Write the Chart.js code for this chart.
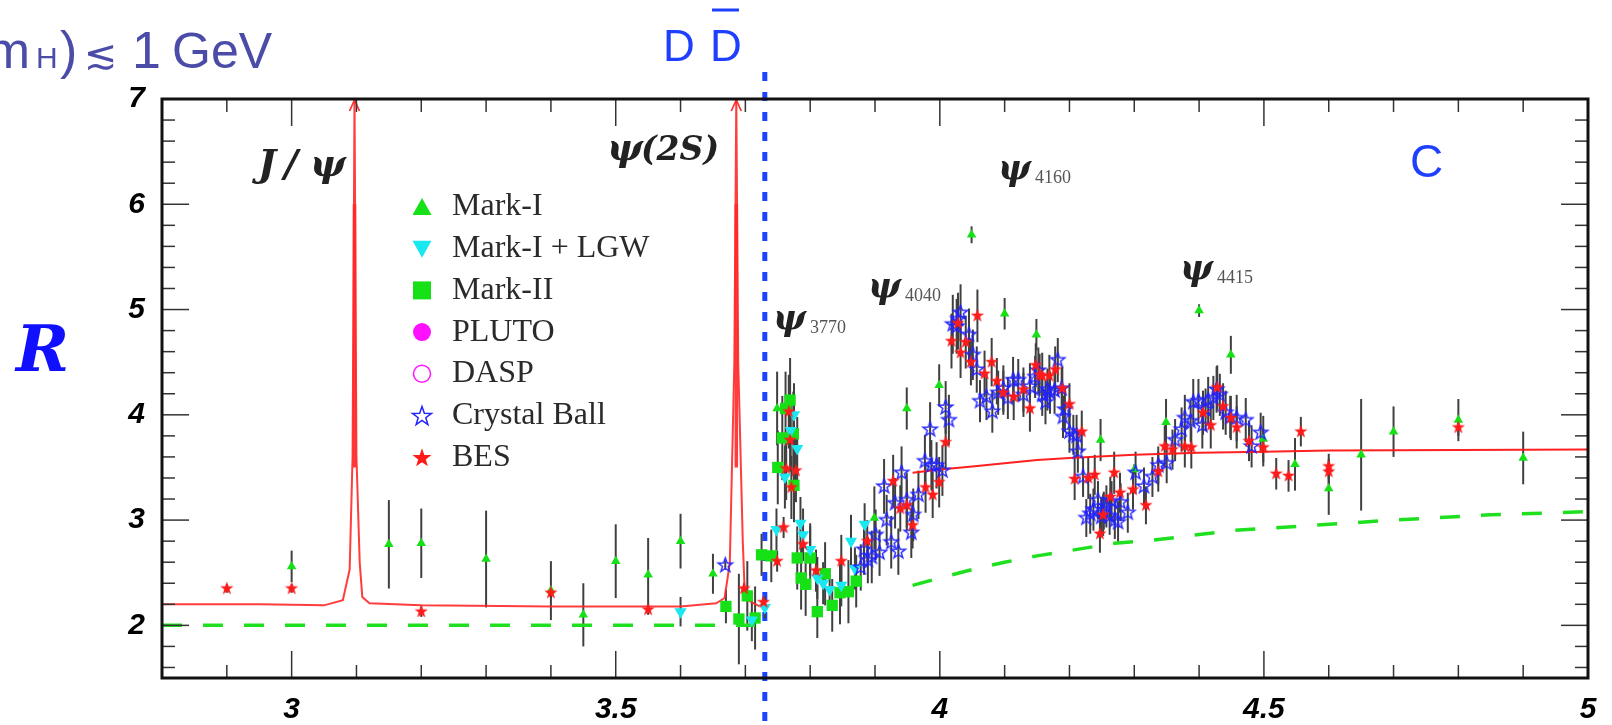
<!DOCTYPE html>
<html>
<head>
<meta charset="utf-8">
<script src="https://cdn.jsdelivr.net/npm/chart.js@4.4.1/dist/chart.umd.min.js"></script>
<style>
  html, body { margin: 0; padding: 0; background: #fff; }
  #wrap { width: 1612px; height: 725px; position: relative; }
</style>
</head>
<body>
<div id="wrap"><canvas id="Chart"></canvas></div>
<script>
// ---- data (E = energy in GeV, R = ratio, dR = error) ----
const markI_E = [3.00, 3.15, 3.20, 3.30, 3.40, 3.45, 3.50, 3.55, 3.60, 3.65, 3.749, 3.899, 3.949, 3.999, 4.049, 4.10, 4.149, 4.248, 4.30, 4.349, 4.40, 4.449, 4.499, 4.548, 4.60, 4.65, 4.70, 4.80, 4.90];
const markI_R = [2.56, 2.77, 2.78, 2.63, 2.33, 2.10, 2.61, 2.48, 2.80, 2.49, 4.06, 3.02, 4.06, 4.28, 5.71, 4.96, 4.76, 3.76, 3.48, 3.93, 4.99, 4.57, 3.77, 3.53, 3.30, 3.62, 3.84, 3.95, 3.59];
const markI_dR = [0.15, 0.42, 0.33, 0.46, 0.28, 0.30, 0.35, 0.35, 0.26, 0.19, 0.35, 0.30, 0.20, 0.20, 0.08, 0.15, 0.15, 0.20, 0.05, 0.22, 0.06, 0.18, 0.22, 0.25, 0.25, 0.53, 0.24, 0.20, 0.25];

const lgw_E = [3.60, 3.71, 3.73, 3.748, 3.761, 3.770, 3.775, 3.780, 3.785, 3.789, 3.800, 3.811, 3.820, 3.830, 3.848, 3.863, 3.869, 3.884];
const lgw_R = [2.13, 2.05, 2.17, 2.91, 3.41, 3.85, 4.00, 3.68, 2.97, 2.86, 2.72, 2.45, 2.40, 2.34, 2.38, 2.80, 2.54, 2.96];
const lgw_dR = [0.14, 0.20, 0.10, 0.20, 0.30, 0.30, 0.30, 0.30, 0.25, 0.25, 0.25, 0.20, 0.20, 0.20, 0.20, 0.25, 0.20, 0.20];

const markII_E = [3.670, 3.690, 3.703, 3.715, 3.725, 3.740, 3.750, 3.757, 3.762, 3.769, 3.774, 3.775, 3.780, 3.786, 3.793, 3.800, 3.811, 3.823, 3.834, 3.846, 3.859, 3.871];
const markII_R = [2.18, 2.06, 2.28, 2.07, 2.67, 2.66, 3.50, 3.78, 4.06, 4.14, 3.82, 3.33, 2.64, 2.45, 2.39, 2.64, 2.13, 2.49, 2.19, 2.31, 2.32, 2.42];
const markII_dR = [0.16, 0.43, 0.33, 0.30, 0.20, 0.25, 0.35, 0.40, 0.35, 0.40, 0.40, 0.35, 0.30, 0.30, 0.30, 0.30, 0.25, 0.30, 0.25, 0.30, 0.30, 0.25];

const pluto_E = [];
const pluto_R = [];
const dasp_E = [];
const dasp_R = [];

const cb_E = [3.669, 3.878, 3.883, 3.889, 3.895, 3.901, 3.907, 3.914, 3.918, 3.925, 3.931, 3.936, 3.941, 3.949, 3.956, 3.959, 3.967, 3.977, 3.985, 3.987, 3.995, 4.004, 4.009, 4.014,
  4.020, 4.026, 4.028, 4.032, 4.045, 4.051, 4.057, 4.062, 4.072, 4.081, 4.090, 4.098, 4.105, 4.113, 4.121, 4.129, 4.139, 4.147, 4.152, 4.158, 4.163, 4.166, 4.170, 4.177, 4.182, 4.188,
  4.190, 4.193, 4.200, 4.206, 4.211, 4.213, 4.221, 4.226, 4.232, 4.237, 4.244, 4.249, 4.253, 4.257, 4.262, 4.265, 4.270, 4.275, 4.279, 4.290, 4.302, 4.315, 4.328, 4.337, 4.350,
  4.363, 4.373, 4.378, 4.387, 4.391, 4.399, 4.405, 4.410, 4.414, 4.422, 4.427, 4.432, 4.441, 4.448, 4.458, 4.472, 4.481, 4.495];
const cb_R = [2.57, 2.55, 2.72, 2.62, 2.65, 2.86, 2.69, 3.32, 3.00, 2.79, 3.16, 2.70, 3.45, 3.19, 2.88, 3.05, 3.24, 3.56, 3.86, 3.52, 3.52, 3.47, 4.07, 3.95,
  4.86, 4.84, 4.91, 4.97, 4.76, 4.57, 4.43, 4.13, 4.17, 4.03, 4.21, 4.25, 4.16, 4.33, 4.33, 4.19, 4.27, 4.36, 4.42, 4.19, 4.12, 4.24, 4.21, 4.23, 4.52, 4.25,
  3.98, 4.05, 3.84, 3.81, 3.80, 3.65, 3.41, 3.02, 3.06, 3.10, 3.19, 3.03, 3.09, 3.13, 3.04, 3.18, 3.00, 2.98, 3.17, 3.07, 3.45, 3.32, 3.41, 3.52, 3.54,
  3.76, 3.86, 3.97, 3.94, 4.12, 4.13, 3.90, 4.05, 4.14, 4.16, 4.24, 4.19, 4.02, 3.98, 3.97, 3.95, 3.70, 3.83];
const cb_dR = [0.04, 0.22, 0.24, 0.22, 0.25, 0.24, 0.22, 0.26, 0.24, 0.25, 0.24, 0.22, 0.25, 0.26, 0.24, 0.25, 0.23, 0.25, 0.26, 0.24, 0.22, 0.24, 0.25, 0.24,
  0.28, 0.26, 0.25, 0.27, 0.25, 0.24, 0.22, 0.20, 0.22, 0.20, 0.21, 0.22, 0.20, 0.22, 0.20, 0.21, 0.22, 0.20, 0.22, 0.20, 0.21, 0.20, 0.20, 0.22, 0.21, 0.20,
  0.20, 0.21, 0.20, 0.19, 0.20, 0.20, 0.19, 0.18, 0.19, 0.20, 0.18, 0.19, 0.18, 0.20, 0.18, 0.19, 0.18, 0.20, 0.18, 0.19, 0.20, 0.18, 0.19, 0.18, 0.19,
  0.20, 0.21, 0.22, 0.20, 0.22, 0.21, 0.22, 0.20, 0.22, 0.21, 0.22, 0.20, 0.21, 0.20, 0.22, 0.21, 0.20, 0.19];

const bes_E = [2.90, 3.00, 3.20, 3.40, 3.55, 3.698, 3.728, 3.749, 3.759, 3.763, 3.767, 3.769, 3.771, 3.778, 3.789, 3.809, 3.848, 3.888, 3.928, 3.939, 3.949, 3.958, 3.978, 3.989, 3.999,
  4.009, 4.018, 4.028, 4.032, 4.040, 4.048, 4.058, 4.069, 4.080, 4.088, 4.098, 4.114, 4.129, 4.139, 4.148, 4.154, 4.158, 4.169, 4.178, 4.189, 4.200, 4.208, 4.219, 4.229,
  4.239, 4.247, 4.252, 4.263, 4.269, 4.278, 4.298, 4.318, 4.337, 4.347, 4.359, 4.378, 4.388, 4.406, 4.418, 4.428, 4.437, 4.449, 4.458, 4.477, 4.499, 4.519, 4.538,
  4.557, 4.600, 4.600, 4.800];
const bes_R = [2.35, 2.35, 2.13, 2.31, 2.15, 2.35, 2.22, 2.61, 2.93, 3.49, 4.03, 3.76, 3.31, 3.47, 2.77, 2.52, 2.61, 2.80, 3.37, 3.11, 3.14, 2.95, 3.31, 3.24, 3.36,
  3.74, 4.70, 4.87, 4.59, 4.69, 4.50, 4.94, 4.39, 4.50, 4.32, 4.21, 4.17, 4.24, 4.06, 4.47, 4.38, 4.37, 4.37, 4.43, 4.25, 4.10, 3.39, 3.84, 3.40,
  3.43, 2.87, 3.05, 3.22, 3.45, 3.26, 3.29, 3.14, 3.46, 3.70, 3.67, 3.70, 3.69, 4.02, 3.90, 4.26, 4.08, 3.97, 3.88, 3.75, 3.69, 3.44, 3.42,
  3.84, 3.51, 3.46, 3.88];
const bes_dR = [0.04, 0.04, 0.05, 0.05, 0.05, 0.05, 0.05, 0.10, 0.10, 0.30, 0.35, 0.30, 0.30, 0.30, 0.10, 0.20, 0.25, 0.20, 0.25, 0.22, 0.24, 0.22, 0.24, 0.22, 0.24,
  0.25, 0.26, 0.25, 0.24, 0.25, 0.22, 0.25, 0.22, 0.23, 0.22, 0.21, 0.22, 0.21, 0.22, 0.21, 0.20, 0.22, 0.20, 0.22, 0.21, 0.20, 0.20, 0.20, 0.20,
  0.19, 0.18, 0.20, 0.19, 0.20, 0.19, 0.19, 0.18, 0.19, 0.20, 0.19, 0.20, 0.20, 0.21, 0.22, 0.21, 0.22, 0.21, 0.20, 0.19, 0.18, 0.15, 0.15,
  0.14, 0.12, 0.12, 0.08];

// theory curve (red) and pQCD (green dashed)
const fitLowE = [2.80, 2.95, 3.05, 3.079, 3.0895, 3.094, 3.097, 3.100, 3.105, 3.109, 3.12, 3.20, 3.40, 3.60, 3.655, 3.668, 3.676, 3.683, 3.686, 3.689, 3.696, 3.699, 3.707, 3.722];
const fitLowR = [2.20, 2.20, 2.19, 2.24, 2.53, 3.60, 7.00, 3.60, 2.60, 2.27, 2.21, 2.19, 2.18, 2.18, 2.21, 2.26, 2.59, 4.50, 7.00, 4.50, 2.80, 2.31, 2.23, 2.18];
const fitHighE = [3.958, 4.00, 4.05, 4.10, 4.15, 4.20, 4.30, 4.40, 4.50, 4.60, 4.80, 5.00];
const fitHighR = [3.45, 3.48, 3.51, 3.54, 3.57, 3.59, 3.62, 3.64, 3.65, 3.66, 3.665, 3.67];
const pqcdLowE = [2.80, 3.715];
const pqcdLowR = [2.00, 2.00];
const pqcdHighE = [3.958, 4.00, 4.05, 4.10, 4.15, 4.20, 4.27, 4.33, 4.45, 4.55, 4.70, 4.85, 5.00];
const pqcdHighR = [2.38, 2.45, 2.53, 2.60, 2.66, 2.71, 2.78, 2.81, 2.90, 2.94, 3.00, 3.05, 3.08];

const xTickLabels = ['3', '3.5', '4', '4.5', '5'];
const yTickLabels = ['2', '3', '4', '5', '6', '7'];
const legendNames = ['Mark-I', 'Mark-I + LGW', 'Mark-II', 'PLUTO', 'DASP', 'Crystal Ball', 'BES'];
const peakE = [3.097, 3.686];
const thresholdE = 3.73;

// ---- helpers ----
const pts = (E, R) => E.map((e, i) => ({ x: e, y: R[i] }));

function makeStar(r, fill, stroke) {
  const s = Math.ceil(r * 2 + 4);
  const c = document.createElement('canvas');
  c.width = s; c.height = s;
  const g = c.getContext('2d');
  starPath(g, s / 2, s / 2, r);
  if (fill) { g.fillStyle = fill; g.fill(); }
  if (stroke) { g.strokeStyle = stroke; g.lineWidth = 1.4; g.stroke(); }
  return c;
}
function starPath(g, cx, cy, r) {
  g.beginPath();
  for (let i = 0; i < 10; i++) {
    const rr = i % 2 ? r * 0.4 : r;
    const a = -Math.PI / 2 + i * Math.PI / 5;
    g.lineTo(cx + rr * Math.cos(a), cy + rr * Math.sin(a));
  }
  g.closePath();
}

const GREEN = '#16e016', CYAN = '#19e8f0', BLUE = '#2222ff', RED = '#ff1a1a', MAG = '#ff10ff';
const blueStar = makeStar(7.5, null, BLUE);
const redStar = makeStar(7, RED, null);

const framePlugin = {
  id: 'frame',
  beforeDatasetsDraw(chart) {
    const ctx = chart.ctx, xs = chart.scales.x, ys = chart.scales.y, a = chart.chartArea;
    ctx.save();
    // D Dbar threshold line
    ctx.strokeStyle = '#1a44ff';
    ctx.lineWidth = 5;
    ctx.setLineDash([9, 11]);
    const tx = xs.getPixelForValue(thresholdE);
    ctx.beginPath(); ctx.moveTo(tx, 72); ctx.lineTo(tx, 725); ctx.stroke();
    ctx.setLineDash([]);
    // error bars
    ctx.beginPath(); ctx.rect(a.left, a.top, a.right - a.left, a.bottom - a.top); ctx.clip();
    ctx.strokeStyle = '#404040'; ctx.lineWidth = 2;
    chart.data.datasets.forEach(ds => {
      if (!ds.errs) return;
      ds.data.forEach((p, i) => {
        const px = xs.getPixelForValue(p.x);
        ctx.beginPath();
        ctx.moveTo(px, ys.getPixelForValue(p.y - ds.errs[i]));
        ctx.lineTo(px, ys.getPixelForValue(p.y + ds.errs[i]));
        ctx.stroke();
      });
    });
    // thicker parts of the resonance peaks
    ctx.strokeStyle = 'rgba(255,40,40,0.9)'; ctx.lineWidth = 3.5;
    peakE.forEach(e => {
      const px = xs.getPixelForValue(e);
      ctx.beginPath(); ctx.moveTo(px, ys.getPixelForValue(3.5)); ctx.lineTo(px, ys.getPixelForValue(6)); ctx.stroke();
    });
    ctx.restore();
  },
  afterDraw(chart) {
    const ctx = chart.ctx, xs = chart.scales.x, ys = chart.scales.y, a = chart.chartArea;
    const line = (x1, y1, x2, y2) => { ctx.beginPath(); ctx.moveTo(x1, y1); ctx.lineTo(x2, y2); ctx.stroke(); };
    const text = (s, x, y, font, color, align) => {
      ctx.font = font; ctx.fillStyle = color; ctx.textAlign = align || 'left'; ctx.fillText(s, x, y);
    };
    ctx.save();

    // arrows at top of the peaks
    ctx.strokeStyle = 'rgba(255,40,40,0.95)'; ctx.lineWidth = 1.8;
    peakE.forEach(e => {
      const px = xs.getPixelForValue(e), py = ys.getPixelForValue(7);
      line(px - 5, py + 12, px, py + 1); line(px + 5, py + 12, px, py + 1);
    });

    // ticks inside the frame
    ctx.strokeStyle = '#333'; ctx.lineWidth = 1.5;
    for (let i = 29; i < 50; i++) {
      const px = xs.getPixelForValue(i / 10), len = i % 5 === 0 ? 27 : 13;
      line(px, a.bottom, px, a.bottom - len);
      line(px, a.top, px, a.top + len);
    }
    for (let i = 8; i < 35; i++) {
      const py = ys.getPixelForValue(i / 5), len = i % 5 === 0 ? 27 : 13;
      line(a.left, py, a.left + len, py);
      line(a.right, py, a.right - len, py);
    }
    ctx.strokeStyle = '#111'; ctx.lineWidth = 3;
    ctx.strokeRect(a.left, a.top, a.right - a.left, a.bottom - a.top);

    // tick labels
    ctx.textBaseline = 'middle';
    const tickFont = 'italic bold 30px "Liberation Sans", Arial, sans-serif';
    xTickLabels.forEach(l => text(l, xs.getPixelForValue(parseFloat(l)), 710, tickFont, '#000', 'center'));
    yTickLabels.forEach(l => text(l, 145, ys.getPixelForValue(parseFloat(l)), tickFont, '#000', 'right'));

    // axis title R
    ctx.textBaseline = 'alphabetic';
    text('R', 16, 371, 'italic bold 64px "DejaVu Serif", serif', '#1010ff');

    // top texts
    const hand = '"Liberation Sans", "DejaVu Sans", sans-serif';
    const hc = '#4b4ba8';
    text('m', 30, 68, '52px ' + hand, hc, 'right');
    text('H', 36, 68, '30px ' + hand, hc);
    text(')', 60, 68, '52px ' + hand, hc);
    text('\u2272', 84, 68, '40px "DejaVu Sans", sans-serif', hc);
    text('1', 132, 68, '52px ' + hand, hc);
    text('GeV', 172, 68, '50px ' + hand, hc);

    text('D', 663, 61, '44px "Liberation Sans", sans-serif', '#1f3fff');
    text('D', 710, 61, '44px "Liberation Sans", sans-serif', '#1f3fff');
    ctx.strokeStyle = '#1f3fff'; ctx.lineWidth = 3; line(712, 10, 739, 10);

    text('C', 1410, 177, '46px "Liberation Sans", sans-serif', '#1f3fff');

    // resonance labels
    const big = 'italic bold 38px "DejaVu Serif", serif';
    const sub = '18px "Liberation Serif", serif';
    text('J', 258, 176, big, '#222');
    text('/', 284, 176, big, '#222');
    text('\u03c8', 310, 176, big, '#222');
    text('\u03c8', 607, 160, big, '#222');
    text('(2S)', 641, 160, 'italic bold 33px "DejaVu Serif", serif', '#222');
    [['3770', 773, 330], ['4040', 868, 298], ['4160', 998, 180], ['4415', 1180, 280]].forEach(([s, x, y]) => {
      text('\u03c8', x, y, 'italic bold 35px "DejaVu Serif", serif', '#222');
      text(s, x + 37, y + 3, sub, '#555');
    });

    // legend
    const lx = 422, ly = 207, dy = 41.7;
    legendNames.forEach((name, i) => {
      const y = ly + dy * i;
      ctx.save();
      ctx.lineWidth = 1.5;
      if (i === 0) { ctx.fillStyle = GREEN; ctx.beginPath(); ctx.moveTo(lx, y - 9); ctx.lineTo(lx + 9.5, y + 8); ctx.lineTo(lx - 9.5, y + 8); ctx.closePath(); ctx.fill(); }
      if (i === 1) { ctx.fillStyle = CYAN; ctx.beginPath(); ctx.moveTo(lx, y + 9); ctx.lineTo(lx + 9.5, y - 8); ctx.lineTo(lx - 9.5, y - 8); ctx.closePath(); ctx.fill(); }
      if (i === 2) { ctx.fillStyle = GREEN; ctx.fillRect(lx - 9, y - 9, 18, 18); }
      if (i === 3) { ctx.fillStyle = MAG; ctx.beginPath(); ctx.arc(lx, y, 9, 0, Math.PI * 2); ctx.fill(); }
      if (i === 4) { ctx.strokeStyle = MAG; ctx.beginPath(); ctx.arc(lx, y, 8.5, 0, Math.PI * 2); ctx.stroke(); }
      if (i === 5) { ctx.strokeStyle = BLUE; starPath(ctx, lx, y + 1, 10); ctx.stroke(); }
      if (i === 6) { ctx.fillStyle = RED; starPath(ctx, lx, y + 1, 10); ctx.fill(); }
      ctx.restore();
      ctx.textBaseline = 'middle';
      text(name, 452, y, '32px "Liberation Serif", serif', '#2a2a2a');
    });
    ctx.restore();
  }
};

const ctx = document.getElementById('Chart');
const curve = (E, R, color, dash, width) => ({
  data: pts(E, R), showLine: true, pointRadius: 0, borderColor: color, borderWidth: width,
  borderDash: dash, tension: 0, fill: false
});

new Chart(ctx, {
  type: 'scatter',
  data: {
    datasets: [
      { label: 'BES', data: pts(bes_E, bes_R), errs: bes_dR, pointStyle: redStar, pointRadius: 7 },
      { label: 'Crystal Ball', data: pts(cb_E, cb_R), errs: cb_dR, pointStyle: blueStar, pointRadius: 7 },
      { label: 'DASP', data: pts(dasp_E, dasp_R), pointStyle: 'circle', pointRadius: 6, borderColor: MAG, backgroundColor: 'rgba(0,0,0,0)' },
      { label: 'PLUTO', data: pts(pluto_E, pluto_R), pointStyle: 'circle', pointRadius: 6, borderColor: MAG, backgroundColor: MAG },
      { label: 'Mark-I', data: pts(markI_E, markI_R), errs: markI_dR, pointStyle: 'triangle', pointRadius: 5.5, borderWidth: 0, backgroundColor: GREEN, borderColor: GREEN },
      { label: 'Mark-I + LGW', data: pts(lgw_E, lgw_R), errs: lgw_dR, pointStyle: 'triangle', rotation: 180, pointRadius: 7, borderWidth: 0, backgroundColor: CYAN, borderColor: CYAN },
      { label: 'Mark-II', data: pts(markII_E, markII_R), errs: markII_dR, pointStyle: 'rect', pointRadius: 8, borderWidth: 0, backgroundColor: GREEN, borderColor: GREEN },
      curve(fitLowE, fitLowR, 'rgba(255,40,40,0.9)', [], 2),
      curve(fitHighE, fitHighR, 'rgba(255,20,20,0.95)', [], 2),
      curve(pqcdLowE, pqcdLowR, '#1fe01f', [20, 21], 3.5),
      curve(pqcdHighE, pqcdHighR, '#1fe01f', [20, 21], 3.5)
    ]
  },
  options: {
    responsive: true,
    maintainAspectRatio: false,
    animation: false,
    layout: { padding: { left: 162, right: 24, top: 99, bottom: 47 } },
    plugins: { legend: { display: false }, tooltip: { enabled: false } },
    scales: {
      x: { type: 'linear', min: 2.8, max: 5.0, display: false },
      y: { type: 'linear', min: 1.5, max: 7.0, display: false }
    }
  },
  plugins: [framePlugin]
});
</script>
</body>
</html>
